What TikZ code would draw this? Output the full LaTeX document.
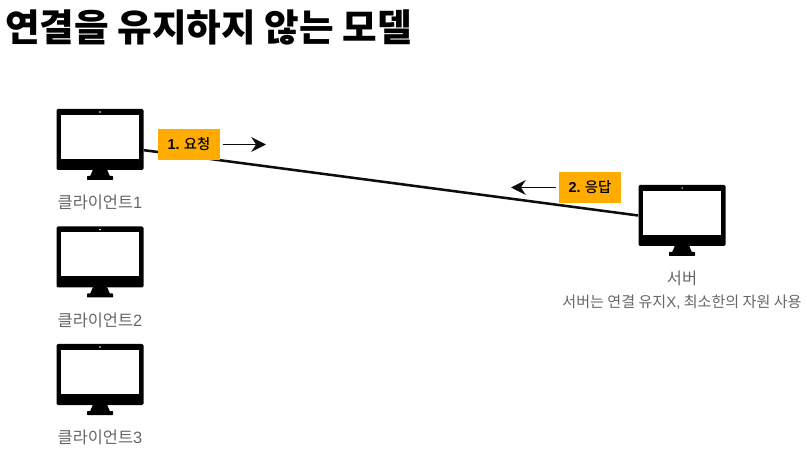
\documentclass[tikz,border=0pt]{standalone}
\usepackage{fontspec}
\usetikzlibrary{arrows.meta}
\setmainfont{Noto Sans CJK KR}
\newfontfamily\latinfont{Liberation Sans}
\newfontfamily\labelfont{Noto Sans CJK KR Medium}
\definecolor{labelorange}{HTML}{FFAB00}
\definecolor{captiongray}{HTML}{666666}
\tikzset{
	monitor/.style={fill=black, draw=none, rounded corners=1pt, minimum width=65.25pt, minimum height=45.75pt, inner sep=0pt},
	screen/.style={fill=white, draw=none, minimum width=58.5pt, minimum height=33pt, inner sep=0pt},
	stand/.style={fill=black, draw=none, minimum width=19.5pt, minimum height=3pt, inner sep=0pt, rounded corners=0.5pt},
	caption/.style={text=captiongray, font=\fontsize{12.3pt}{14pt}\selectfont, inner sep=0pt},
	step label/.style={fill=labelorange, text=black, minimum width=46.5pt, minimum height=23.25pt, inner sep=0pt, font=\fontsize{10.8pt}{12pt}\labelfont},
	wire/.style={line width=1.9pt, draw=black!95},
	flow/.style={line width=1.4pt, draw=black!95, -{Stealth[length=11pt,width=11pt]}}
}
\begin{document}
\begin{tikzpicture}[x=0.75pt, y=-0.75pt]
	\useasboundingbox (0, 0) rectangle (807, 452);

	\node[anchor=west, inner sep=0pt, font=\fontsize{28.2pt}{32pt}\selectfont\bfseries] (title) at (5, 27) {연결을 유지하지 않는 모델};

	% clients
	\foreach \name/\ypos/\num in {clienta/139.5/1, clientb/257/2, clientc/374.5/3} {
		\node[stand] (\name base) at (100, \ypos+38.5) {};
		\fill (93, \ypos+30) -- (107, \ypos+30) -- (110, \ypos+37) -- (90, \ypos+37) -- cycle;
		\node[monitor] (\name) at (100, \ypos) {};
		\node[screen] (\name screen) at (100, \ypos-2.5) {};
		\node[fill=white, circle, inner sep=0.4pt] (\name cam) at (100, \ypos-27.5) {};
		\node[caption] (\name text) at (100, \ypos+63) {클라이언트{\latinfont\num}};
	}

	% server
	\node[stand] (serverbase) at (682, 254) {};
	\fill (675, 245.5) -- (689, 245.5) -- (692, 252.5) -- (672, 252.5) -- cycle;
	\node[monitor] (server) at (682, 215.5) {};
	\node[screen] (serverscreen) at (682, 213) {};
	\node[fill=white, circle, inner sep=0.4pt] (servercam) at (682, 188) {};
	\node[caption] (servertext) at (682, 278) {서버};
	\node[caption, font=\fontsize{11.3pt}{13pt}\selectfont] (servernote) at (682, 302.5) {서버는 연결 유지{\latinfont X,} 최소한의 자원 사용};

	\draw[wire] ([yshift=-8pt]clienta.east) -- (server.west);

	\node[step label] (request) at (189, 144.5) {{\latinfont\bfseries 1.} 요청};
	\node[step label] (response) at (590, 187.5) {{\latinfont\bfseries 2.} 응답};

	\coordinate (requestend) at (266, 144.5);
	\coordinate (responseend) at (511, 187.5);
	\draw[flow] ([xshift=2pt]request.east) -- (requestend);
	\draw[flow] ([xshift=-2pt]response.west) -- (responseend);
\end{tikzpicture}
\end{document}
